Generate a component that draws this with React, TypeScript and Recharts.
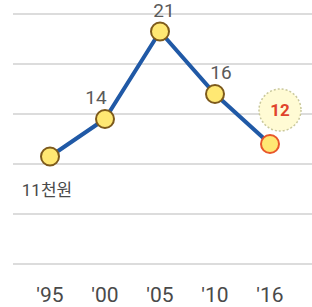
import React from 'react';
import { LineChart, Line, XAxis, YAxis, CartesianGrid, LabelList } from 'recharts';

const years = ["'95", "'00", "'05", "'10", "'16"];
const prices = [11, 14, 21, 16, 12];
const gridTicks = [2.4, 6.4, 10.4, 14.4, 18.4, 22.4];
const unit = '천원';

const data = years.map((year, i) => ({ year, price: prices[i] }));
const lastIndex = prices.length - 1;

// small horizontal nudges for the value labels
const labelShift = [0, -9, 4, 6, 0];

const renderDot = (props: any) => {
  const { cx, cy, index } = props;
  const last = index === lastIndex;
  return (
    <circle
      key={`dot-${index}`}
      cx={cx}
      cy={cy}
      r={9}
      fill="#ffe873"
      stroke={last ? '#e8572a' : '#7d5a1c'}
      strokeWidth={2}
    />
  );
};

const renderLabel = (props: any) => {
  const { x, y, value, index } = props;
  if (index === 0) {
    return (
      <text x={x - 3} y={y + 39} textAnchor="middle" fill="#4a4a4a" fontSize={17}>
        {value}
        {unit}
      </text>
    );
  }
  if (index === lastIndex) {
    return (
      <g>
        <circle cx={x + 10} cy={y - 34} r={21} fill="#fffbd4" stroke="#c9c89c" strokeWidth={1.5} strokeDasharray="2 2" />
        <text x={x + 10} y={y - 28} textAnchor="middle" fill="#e0442c" fontSize={17} fontWeight="bold">
          {value}
        </text>
      </g>
    );
  }
  return (
    <text x={x + labelShift[index]} y={y - 15} textAnchor="middle" fill="#5a5a5a" fontSize={19}>
      {value}
    </text>
  );
};

export default function App() {
  return (
    <div style={{ position: 'absolute', left: 0, top: 0, fontFamily: "Roboto, 'Noto Sans CJK KR', sans-serif" }}>
      <LineChart width={312} height={307} data={data} margin={{ top: 14, right: 0, bottom: 13, left: 13 }}>
        <CartesianGrid vertical={false} stroke="#dcdcdc" strokeWidth={2} />
        <XAxis
          dataKey="year"
          axisLine={false}
          tickLine={false}
          height={30}
          tickMargin={17}
          padding={{ left: 37, right: 42 }}
          tick={{ fill: '#4a4a4a', fontSize: 21 }}
        />
        <YAxis hide type="number" domain={[2.4, 22.4]} ticks={gridTicks} />
        <Line
          type="linear"
          dataKey="price"
          stroke="#2059a6"
          strokeWidth={4}
          dot={renderDot}
          activeDot={false}
          isAnimationActive={false}
        >
          <LabelList dataKey="price" content={renderLabel} />
        </Line>
      </LineChart>
    </div>
  );
}
